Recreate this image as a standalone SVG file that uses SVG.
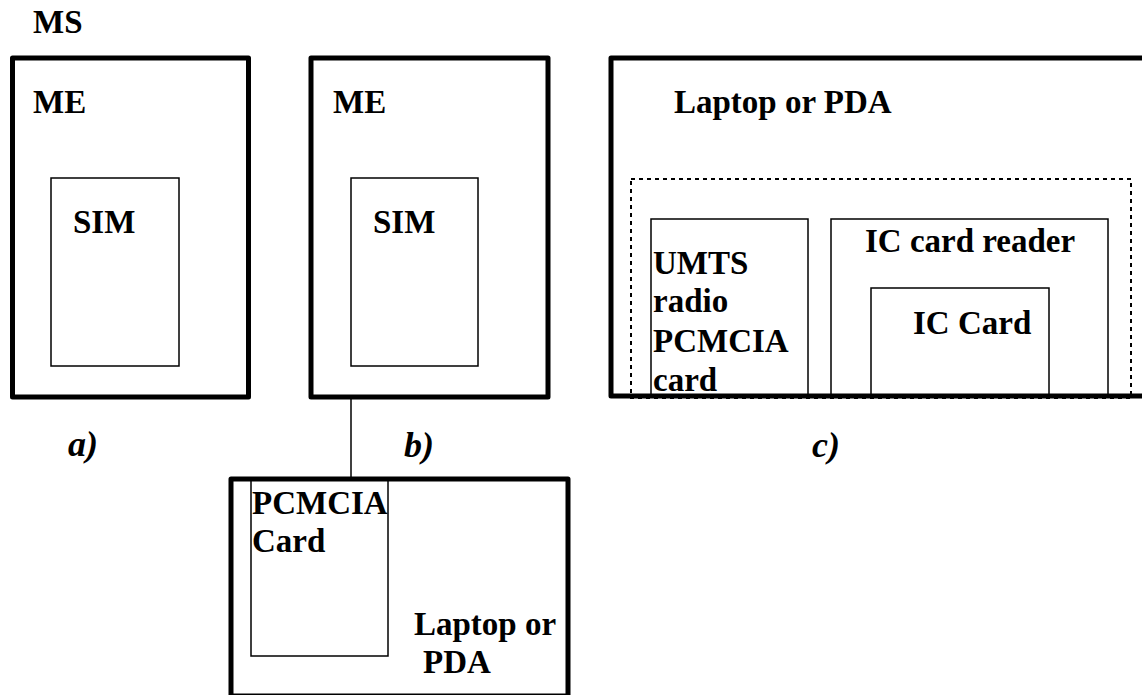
<svg xmlns="http://www.w3.org/2000/svg" width="1142" height="695" viewBox="0 0 1142 695">
<style>
.thick{fill:none;stroke:#000;stroke-width:5;stroke-linejoin:round}
.thin{fill:none;stroke:#000;stroke-width:1.5}
.dot{fill:none;stroke:#000;stroke-width:2;stroke-dasharray:4 4}
text{font-family:"Liberation Serif","Times New Roman",serif;font-weight:bold;font-size:33px;fill:#000}
.it{font-style:italic;font-size:36px}
</style>
<rect width="1142" height="695" fill="#fff"/>
<text x="33" y="33">MS</text>
<g id="a">
<rect class="thick" x="12.5" y="58" width="236" height="339"/>
<text x="33" y="113">ME</text>
<g id="sim-a">
<rect class="thin" x="51" y="178" width="128" height="188"/>
<text x="73" y="233">SIM</text>
</g>
<text class="it" x="68" y="456">a)</text>
</g>
<g id="b">
<rect class="thick" x="311" y="58" width="237" height="339"/>
<text x="333" y="113">ME</text>
<g id="sim-b">
<rect class="thin" x="351" y="178" width="127" height="188"/>
<text x="373" y="233">SIM</text>
</g>
<text class="it" x="404" y="457">b)</text>
</g>
<g id="connectors">
<line x1="351" y1="397" x2="351" y2="479" stroke="#000" stroke-width="1.5"/>
</g>
<g id="laptop-b">
<rect class="thick" x="231" y="479" width="337" height="217"/>
<g id="pcmcia-b">
<rect class="thin" x="251" y="480" width="137" height="176"/>
<text x="252" y="514">PCMCIA</text>
<text x="252" y="552">Card</text>
</g>
<text x="414" y="635">Laptop or</text>
<text x="423" y="673">PDA</text>
</g>
<g id="c">
<rect class="thick" x="611" y="58" width="560" height="338"/>
<text x="674" y="113">Laptop or PDA</text>
<rect class="dot" x="631" y="179" width="500" height="219"/>
<g id="umts">
<rect class="thin" x="651" y="219" width="157" height="177"/>
<text x="653" y="274">UMTS</text>
<text x="653" y="312">radio</text>
<text x="653" y="352">PCMCIA</text>
<text x="653" y="391">card</text>
</g>
<g id="reader">
<rect class="thin" x="831" y="219" width="277" height="177"/>
<text x="865" y="252">IC card reader</text>
<g id="iccard">
<rect class="thin" x="871" y="288" width="178" height="108"/>
<text x="913" y="334">IC Card</text>
</g>
</g>
<text class="it" x="812" y="457">c)</text>
</g>
</svg>
